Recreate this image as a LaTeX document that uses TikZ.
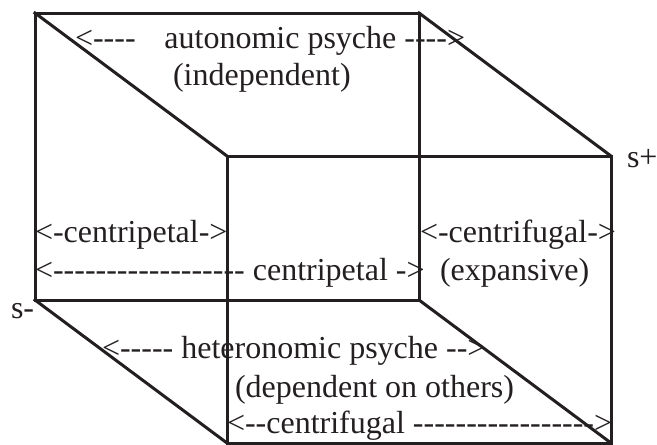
\documentclass[tikz,border=0pt]{standalone}
\usepackage{fontspec}
\setmainfont{Liberation Serif}[Ligatures=TeXOff]
\definecolor{ink}{HTML}{231F20}
\begin{document}
\begin{tikzpicture}[x=1pt,y=-1pt,
  edge/.style={draw=ink,line width=3pt,line join=miter,line cap=rect},
  lbl/.style={anchor=base west,inner sep=0pt,outer sep=0pt,text=ink,font=\fontsize{32}{38}\selectfont}]
\useasboundingbox (0,0) rectangle (657,445);
% back face corners
\coordinate (btl) at (35,13);
\coordinate (btr) at (419,13);
\coordinate (bbl) at (35,300);
\coordinate (bbr) at (419,300);
% front face corners
\coordinate (ftl) at (227,156);
\coordinate (ftr) at (611,156);
\coordinate (fbl) at (227,443);
\coordinate (fbr) at (611,443);
\draw[edge] (btl) rectangle (bbr);
\draw[edge] (ftl) rectangle (fbr);
\draw[edge] (btl) -- (ftl);
\draw[edge] (btr) -- (ftr);
\draw[edge] (bbl) -- (fbl);
\draw[edge] (bbr) -- (fbr);
% labels
\node[lbl] (auto) at (75,48) {<----\hspace{0.9em}autonomic psyche ---->};
\node[lbl] (indep) at (173,85) {(independent)};
\node[lbl] (splus) at (627,167) {s+};
\node[lbl] (cpet) at (35,242) {<-centripetal->};
\node[lbl] (cfug) at (420,242) {<-centrifugal->};
\node[lbl] (cpetlong) at (35,280) {<------------------ centripetal ->};
\node[lbl] (expan) at (440,280) {(expansive)};
\node[lbl] (sminus) at (11,318) {s-};
\node[lbl] (hetero) at (102,358) {<----- heteronomic psyche -->};
\node[lbl] (depend) at (235,397) {(dependent on others)};
\node[lbl] (cfuglong) at (227,433) {<--centrifugal ----------------->};
\end{tikzpicture}
\end{document}
